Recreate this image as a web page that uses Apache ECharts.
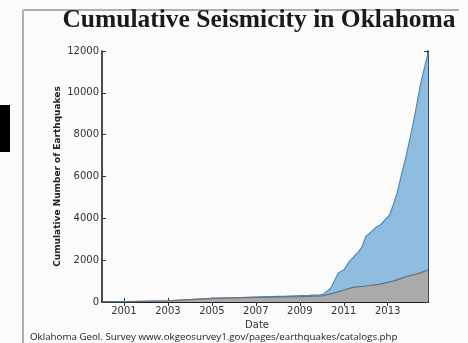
<!DOCTYPE html>
<html>
<head>
<meta charset="utf-8">
<script src="https://cdn.jsdelivr.net/npm/echarts@6/dist/echarts.min.js"></script>
<style>
  html, body { margin: 0; padding: 0; background: #fbfbfb; }
  #chart { width: 468px; height: 343px; }
</style>
</head>
<body>
<div id="chart"></div>
<script>
// Year labels shown on the date axis
const tickYears = [2001, 2003, 2005, 2007, 2009, 2011, 2013];

// Cumulative count of all catalogued earthquakes: [month, count]
const totalMonths = ['2000-01','2001-01','2003-01','2005-01','2007-01','2008-06','2009-06','2009-12','2010-02',
  '2010-06','2010-10','2011-01','2011-04','2011-09','2011-11','2012-01','2012-03','2012-07','2012-09',
  '2013-02','2013-04','2013-06','2013-08','2013-11','2014-01','2014-04','2014-07','2014-11'];
const totalCounts = [0, 10, 50, 180, 240, 280, 320, 345, 380,
  670, 1390, 1530, 1930, 2400, 2640, 3120, 3280, 3600, 3680,
  4160, 4640, 5150, 5900, 6950, 7740, 9020, 10450, 11890];

// Cumulative count of the larger events: [month, count]
const largerMonths = ['2000-01','2001-01','2003-01','2005-01','2007-01','2009-01','2010-01','2010-07',
  '2011-01','2011-06','2012-01','2012-08','2013-04','2013-11','2014-06','2014-11'];
const largerCounts = [0, 15, 50, 170, 225, 255, 290, 415,
  575, 700, 765, 845, 1000, 1210, 1370, 1530];

// Monthly categories spanning the date axis
const months = [];
for (let y = 2000; y <= 2014; y++) {
  for (let m = 1; m <= 12; m++) {
    if (y === 2014 && m > 11) break;
    months.push(y + '-' + String(m).padStart(2, '0'));
  }
}
const isYearTick = (idx, val) => tickYears.some(y => val === y + '-01');

const pairs = (xs, ys) => xs.map((x, i) => [x, ys[i]]);

const chart = echarts.init(document.getElementById('chart'), null, { renderer: 'canvas' });

const tickStyle = { show: true, inside: true, length: 4, lineStyle: { color: '#333', width: 1 } };
const spine = { show: true, lineStyle: { color: '#111', width: 1.5 } };

chart.setOption({
  backgroundColor: '#fbfbfb',
  animation: false,
  grid: { left: 102, right: 40, top: 51, bottom: 41 },
  xAxis: [
    {
      type: 'category', data: months, boundaryGap: false, position: 'bottom',
      axisLine: spine,
      axisTick: Object.assign({ interval: isYearTick }, tickStyle),
      axisLabel: {
        interval: isYearTick, margin: 4, color: '#333', fontSize: 10, fontFamily: 'DejaVu Sans',
        formatter: v => v.slice(0, 4)
      },
      splitLine: { show: false },
      name: 'Date', nameLocation: 'middle', nameGap: 17,
      nameTextStyle: { color: '#333', fontSize: 10, fontFamily: 'DejaVu Sans', padding: [0, 16, 0, 0] }
    },
    {
      type: 'category', data: months, boundaryGap: false, position: 'top',
      axisLine: spine,
      axisTick: Object.assign({ interval: isYearTick }, tickStyle),
      axisLabel: { show: false }, splitLine: { show: false }
    }
  ],
  yAxis: [
    {
      type: 'value', min: 0, max: 12000, interval: 2000, position: 'left',
      axisLine: spine, axisTick: tickStyle, splitLine: { show: false },
      axisLabel: { margin: 3, color: '#333', fontSize: 10, fontFamily: 'DejaVu Sans', formatter: v => String(v) },
      name: 'Cumulative Number of Earthquakes', nameLocation: 'middle', nameGap: 40, nameMoveOverlap: false,
      nameTextStyle: { color: '#222', fontSize: 9, fontWeight: 'bold', fontFamily: 'DejaVu Sans' }
    },
    {
      type: 'value', min: 0, max: 12000, interval: 2000, position: 'right',
      axisLine: spine, axisTick: tickStyle, splitLine: { show: false },
      axisLabel: { show: false }
    }
  ],
  series: [
    {
      name: 'All earthquakes', type: 'line', data: pairs(totalMonths, totalCounts),
      showSymbol: false, symbol: 'none', z: 2,
      lineStyle: { color: '#4a8cc4', width: 1.2 },
      areaStyle: { color: '#8fbde0', opacity: 1 }
    },
    {
      name: 'Larger earthquakes', type: 'line', data: pairs(largerMonths, largerCounts),
      showSymbol: false, symbol: 'none', z: 3,
      lineStyle: { color: '#66737d', width: 1.2 },
      areaStyle: { color: '#aaaaaa', opacity: 1 }
    }
  ],
  graphic: [
    { type: 'rect', shape: { x: 0, y: 105, width: 10, height: 47 }, style: { fill: '#000' } },
    { type: 'line', shape: { x1: 23, y1: 10, x2: 23, y2: 343 }, style: { stroke: '#b0b0b0', lineWidth: 2 } },
    { type: 'line', shape: { x1: 23, y1: 10, x2: 459, y2: 10 }, style: { stroke: '#b0b0b0', lineWidth: 2 } },
    {
      type: 'text', x: 259, y: 7,
      style: {
        text: 'Cumulative Seismicity in Oklahoma', align: 'center', verticalAlign: 'top',
        font: 'bold 25.5px "Liberation Serif"', fill: '#1a1a1a'
      }
    },
    {
      type: 'text', x: 30, y: 337,
      style: {
        text: 'Oklahoma Geol. Survey www.okgeosurvey1.gov/pages/earthquakes/catalogs.php',
        align: 'left', verticalAlign: 'middle',
        font: '9.75px "Open Sans"', fill: '#222'
      }
    }
  ]
});
</script>
</body>
</html>
